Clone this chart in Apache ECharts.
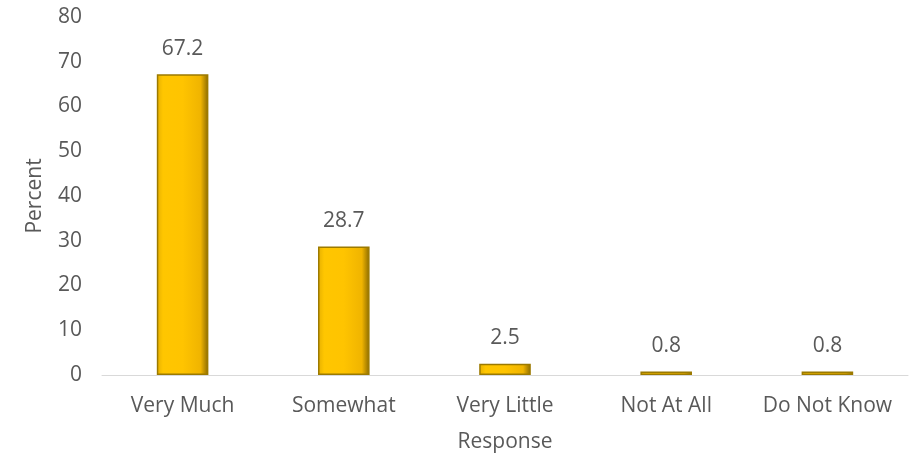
<!DOCTYPE html>
<html><head><meta charset="utf-8">
<script src="https://cdn.jsdelivr.net/npm/echarts@6/dist/echarts.min.js"></script>
<style>html,body{margin:0;padding:0;background:#fff}#c{width:923px;height:462px}</style>
</head><body><div id="c"></div>
<script>
const categories = ['Very Much', 'Somewhat', 'Very Little', 'Not At All', 'Do Not Know'];
const percentValues = [67.2, 28.7, 2.5, 0.8, 0.8];
const yTicks = { min: 0, max: 80, interval: 10 };

const font = '"Open Sans", "Noto Sans", sans-serif';
const txt = '#595959';
const chart = echarts.init(document.getElementById('c'), null, { renderer: 'canvas' });
chart.setOption({
  animation: false,
  grid: { left: 102, right: 15, top: 17, bottom: 87, containLabel: false },
  xAxis: {
    type: 'category', data: categories,
    name: 'Response', nameLocation: 'middle', nameGap: 57,
    nameTextStyle: { fontFamily: font, fontSize: 21, color: txt },
    axisLine: { lineStyle: { color: '#d9d9d9', width: 1 } },
    axisTick: { show: false },
    axisLabel: { interval: 0, hideOverlap: false, fontFamily: font, fontSize: 21, color: txt, margin: 21 }
  },
  yAxis: {
    type: 'value', min: yTicks.min, max: yTicks.max, interval: yTicks.interval,
    name: 'Percent', nameLocation: 'middle', nameGap: 56, nameRotate: 90,
    nameTextStyle: { fontFamily: font, fontSize: 21, color: txt },
    splitLine: { show: false },
    axisLine: { show: false }, axisTick: { show: false },
    axisLabel: { fontFamily: font, fontSize: 21, color: txt, margin: 20 }
  },
  series: [{
    type: 'bar', data: percentValues, barWidth: '32%',
    itemStyle: {
      color: {
        type: 'linear', x: 0, y: 0, x2: 1, y2: 0,
        colorStops: [
          { offset: 0, color: '#e6b000' },
          { offset: 0.12, color: '#ffc600' },
          { offset: 0.5, color: '#ffc400' },
          { offset: 0.85, color: '#f0b400' },
          { offset: 1, color: '#8a6a00' }
        ]
      },
      borderColor: '#9c7a00', borderWidth: 1.5
    },
    label: {
      show: true, position: 'top', distance: 15,
      fontFamily: font, fontSize: 21, color: txt,
      formatter: p => p.value.toFixed(1)
    }
  }]
});
</script></body></html>
